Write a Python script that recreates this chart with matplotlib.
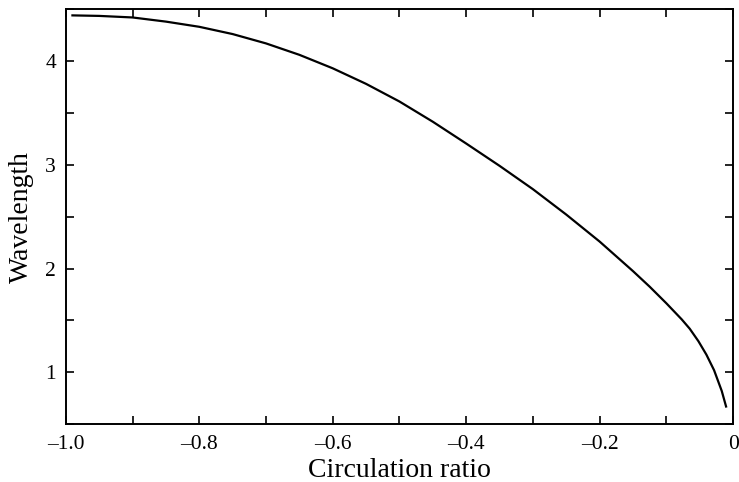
import numpy as np
import matplotlib.pyplot as plt
from matplotlib.ticker import MultipleLocator, FuncFormatter

# values
circ_ratio = [-0.99, -0.95, -0.9, -0.85, -0.8, -0.75, -0.7, -0.65, -0.6,
              -0.55, -0.5, -0.45, -0.4, -0.35, -0.3, -0.25, -0.2, -0.15,
              -0.125, -0.1, -0.077, -0.065, -0.052, -0.04, -0.0285,
              -0.017, -0.0105]
wavelength = [4.44, 4.435, 4.42, 4.38, 4.33, 4.26, 4.17, 4.06, 3.93,
              3.78, 3.61, 3.415, 3.205, 2.99, 2.765, 2.52, 2.26, 1.975,
              1.825, 1.665, 1.51, 1.42, 1.30, 1.17, 1.02,
              0.82, 0.67]

plt.rcParams['font.family'] = ['Liberation Serif', 'DejaVu Serif']

fig = plt.figure(figsize=(7.39, 4.82), dpi=100)
ax = fig.add_axes([0.089, 0.12, 0.903, 0.861])

ax.plot(circ_ratio, wavelength, color='black', lw=1.6)

ax.set_xlim(-1.0, 0)
ax.set_ylim(0.5, 4.5)

ax.xaxis.set_major_locator(MultipleLocator(0.2))
ax.xaxis.set_minor_locator(MultipleLocator(0.1))
ax.yaxis.set_major_locator(MultipleLocator(1))
ax.yaxis.set_minor_locator(MultipleLocator(0.5))


def xfmt(v, pos):
    if abs(v) < 1e-9:
        return '0'
    return '\u2013' + f'{abs(v):.1f}'


ax.xaxis.set_major_formatter(FuncFormatter(xfmt))
ax.yaxis.set_major_formatter(FuncFormatter(lambda v, p: f'{v:.0f}'))

ax.tick_params(which='both', direction='in', top=True, right=True,
               length=6, width=1.2, labelsize=15.5)
ax.tick_params(axis='x', pad=8)
ax.tick_params(axis='y', pad=7)

for s in ax.spines.values():
    s.set_linewidth(1.4)

ax.set_xlabel('Circulation ratio', fontsize=20, labelpad=3)
ax.set_ylabel('Wavelength', fontsize=20, labelpad=8)

fig.savefig('out.png', dpi=100)
